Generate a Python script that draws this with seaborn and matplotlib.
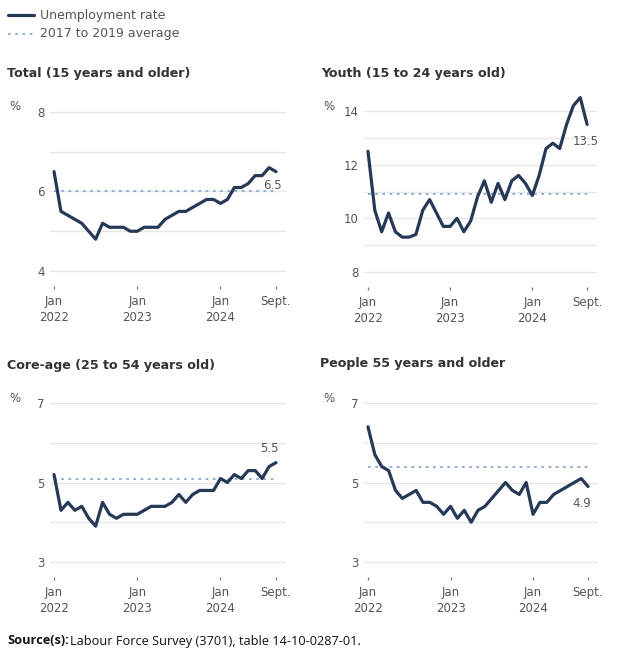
import matplotlib
matplotlib.use("Agg")
import matplotlib.pyplot as plt
import seaborn as sns
import pandas as pd
import numpy as np
from matplotlib.lines import Line2D

sns.set_style("white")
plt.rcParams['font.family'] = ['DejaVu Sans']

months = list(range(33))  # Jan 2022 .. Sept 2024
tick_pos = [0, 12, 24, 32]
tick_labels = ["Jan\n2022", "Jan\n2023", "Jan\n2024", "Sept."]

total = [6.5, 5.5, 5.4, 5.3, 5.2, 5.0, 4.8, 5.2, 5.1, 5.1, 5.1, 5.0,
         5.0, 5.1, 5.1, 5.1, 5.3, 5.4, 5.5, 5.5, 5.6, 5.7, 5.8, 5.8,
         5.7, 5.8, 6.1, 6.1, 6.2, 6.4, 6.4, 6.6, 6.5]
youth = [12.5, 10.3, 9.5, 10.2, 9.5, 9.3, 9.3, 9.4, 10.3, 10.7, 10.2, 9.7,
         9.7, 10.0, 9.5, 9.9, 10.8, 11.4, 10.6, 11.3, 10.7, 11.4, 11.6, 11.3,
         10.85, 11.6, 12.6, 12.8, 12.6, 13.5, 14.2, 14.5, 13.5]
core = [5.2, 4.3, 4.5, 4.3, 4.4, 4.1, 3.9, 4.5, 4.2, 4.1, 4.2, 4.2,
        4.2, 4.3, 4.4, 4.4, 4.4, 4.5, 4.7, 4.5, 4.7, 4.8, 4.8, 4.8,
        5.1, 5.0, 5.2, 5.1, 5.3, 5.3, 5.1, 5.4, 5.5]
older = [6.4, 5.7, 5.4, 5.3, 4.8, 4.6, 4.7, 4.8, 4.5, 4.5, 4.4, 4.2,
         4.4, 4.1, 4.3, 4.0, 4.3, 4.4, 4.6, 4.8, 5.0, 4.8, 4.7, 5.0,
         4.2, 4.5, 4.5, 4.7, 4.8, 4.9, 5.0, 5.1, 4.9]

averages = [6.0, 10.9, 5.1, 5.4]
titles = ["Total (15 years and older)", "Youth (15 to 24 years old)",
          "Core-age (25 to 54 years old)", "People 55 years and older"]
series = [total, youth, core, older]
ylims = [(4, 8), (8, 14), (3, 7), (3, 7)]
yticks_major = [[4, 6, 8], [8, 10, 12, 14], [3, 5, 7], [3, 5, 7]]
end_labels = ["6.5", "13.5", "5.5", "4.9"]

LINE = "#263956"
AVG = "#8fa8cc"
GRID = "#e6e6e6"
TXT = "#555555"
TITLE = "#333333"

W, H = 628, 654
fig = plt.figure(figsize=(W / 100, H / 100), dpi=100)

# pixel rects: left, top, right, bottom
rects = [(50, 112, 285, 271), (364, 111, 596, 272),
         (50, 403, 285, 562), (364, 403, 597, 562)]
title_pos = [(7, 73), (321, 73), (7, 365), (320, 364)]
pct_pos = [(15, 106), (329, 106), (15, 399), (329, 399)]
label_off = [(2, -10, "right", "center"), (6, -12, "right", "center"),
             (0, 10, "right", "center"), (0, -12, "right", "center")]

for i in range(4):
    l, t, r, b = rects[i]
    ax = fig.add_axes([l / W, 1 - b / H, (r - l) / W, (b - t) / H])
    lo, hi = ylims[i]
    df = pd.DataFrame({"month": months, "rate": series[i]})
    sns.lineplot(data=df, x="month", y="rate", ax=ax, color=LINE,
                 linewidth=2.3, clip_on=False, zorder=4)
    ax.plot([0, 32], [averages[i], averages[i]], color=AVG,
            linestyle=(0, (1.5, 2.5)), linewidth=1.3, zorder=3)
    ax.set_xlim(-0.58, 33.3)
    ax.set_ylim(lo, hi)
    for g in range(lo, hi + 1):
        ax.axhline(g, color=GRID, linewidth=0.9, zorder=1, clip_on=False)
    ax.set_yticks(yticks_major[i])
    ax.set_yticklabels([str(v) for v in yticks_major[i]])
    ax.set_xticks(tick_pos)
    ax.set_xticklabels(tick_labels)
    ax.tick_params(axis="y", left=False, length=0, pad=4, labelsize=8.5,
                   labelcolor=TXT)
    ax.tick_params(axis="x", bottom=True, length=2.5, width=0.9,
                   color="#777777", pad=4, labelsize=8.5, labelcolor=TXT,
                   direction="out")
    for s in ["top", "right", "left"]:
        ax.spines[s].set_visible(False)
    ax.spines["bottom"].set_position(("outward", 11))
    ax.spines["bottom"].set_visible(False)
    ax.set_xlabel("")
    ax.set_ylabel("")
    for lab in ax.get_xticklabels():
        lab.set_linespacing(1.25)
    dx, dy, ha, va = label_off[i]
    ax.annotate(end_labels[i], xy=(32, series[i][-1]), xytext=(dx + 2, dy),
                textcoords="offset points", ha=ha, va=va,
                fontsize=8.5, color=TXT, zorder=5)

    tx, ty = title_pos[i]
    fig.text(tx / W, 1 - ty / H, titles[i], fontsize=9.1, fontweight="bold",
             color=TITLE, ha="left", va="center")
    px, py = pct_pos[i]
    fig.text(px / W, 1 - py / H, "%", fontsize=8.5, color=TXT,
             ha="center", va="center")

# legend
fig.add_artist(Line2D([8 / W, 34 / W], [1 - 15 / H, 1 - 15 / H],
                      color=LINE, linewidth=2.3))
fig.add_artist(Line2D([8 / W, 34 / W], [1 - 34 / H, 1 - 34 / H],
                      color=AVG, linewidth=1.3, linestyle=(0, (1.5, 2.5))))
fig.text(40 / W, 1 - 15 / H, "Unemployment rate", fontsize=9, color=TXT,
         ha="left", va="center")
fig.text(40 / W, 1 - 34 / H, "2017 to 2019 average", fontsize=9, color=TXT,
         ha="left", va="center")

# source
src_y = 1 - 641 / H
t1 = fig.text(7 / W, src_y, "Source(s):", fontsize=9.2, fontweight="bold",
              color="#111111", ha="left", va="center", family="Open Sans")
fig.canvas.draw()
bb = t1.get_window_extent()
fig.text((bb.x1 + 1) / W, src_y,
         "Labour Force Survey (3701), table 14-10-0287-01.", fontsize=9.2,
         color="#111111", ha="left", va="center", family="Open Sans")

fig.savefig("out.png", dpi=100, facecolor="white")
